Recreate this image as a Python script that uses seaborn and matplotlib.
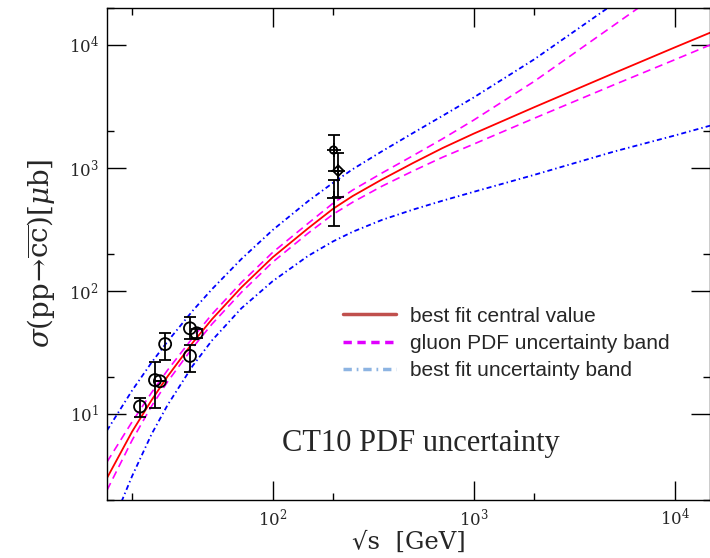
import numpy as np
import pandas as pd
import matplotlib
matplotlib.use("Agg")
import matplotlib.pyplot as plt
from matplotlib.ticker import LogLocator, NullFormatter
from matplotlib.lines import Line2D
import seaborn as sns

# ---------------- data ----------------
sqrt_s = [15, 20, 25, 30, 40, 50, 70, 100, 150, 200, 250, 350, 500, 700, 1000, 2000, 5000, 10000, 15000]
central = [2.99, 7.13, 12.85, 20.0, 37.6, 58.6, 106.2, 186, 320, 462, 586, 800, 1089, 1439, 1884, 3090, 5861, 9462, 12470]
gluon_hi = [4.04, 8.57, 14.8, 22.5, 41.2, 64.3, 116.4, 204, 351, 513, 655, 902, 1250, 1710, 2427, 5012, 14390, 32060, 49660]
gluon_lo = [2.38, 6.07, 11.5, 18.1, 34.3, 53.5, 96.8, 170, 292, 417, 522, 705, 938, 1211, 1549, 2512, 4710, 7516, 9908]
fit_hi = [7.28, 15.4, 26.0, 38.5, 68.4, 102.8, 180.7, 310, 532, 752, 968, 1355, 1910, 2630, 3707, 7568, 21530, 49430, 80350]
fit_lo = [1.0, 3.1, 6.8, 11.7, 24.4, 39.4, 71.8, 119, 191, 251, 300, 375, 455, 537, 634, 871, 1349, 1820, 2188]

exp_sqrt_s = [21.9, 26.0, 27.5, 29.2, 38.8, 41.9, 38.8, 201, 212, 201]
exp_sigma = [11.4, 18.7, 18.3, 36.7, 49.3, 44.9, 29.4, 1387, 942, 569]
exp_low = [9.4, 11.0, 18.3, 27.2, 40.0, 41.0, 21.9, 942, 579, 336]
exp_high = [13.3, 26.4, 18.3, 45.4, 60.5, 49.0, 36.1, 1837, 1313, 792]
exp_kind = ["circle"] * 7 + ["cross", "diamond", "star"]

legend_labels = ["best fit central value", "gluon PDF uncertainty band", "best fit uncertainty band"]
title_text = "CT10 PDF uncertainty"

# ---------------- styling ----------------
sns.set_style("ticks")
plt.rcParams["font.family"] = ["DejaVu Serif"]
plt.rcParams["mathtext.fontset"] = "dejavuserif"

W, H = 710, 558
fig = plt.figure(figsize=(W / 100, H / 100), dpi=100)
ax = fig.add_axes([107 / W, 1 - 499.5 / H, 603 / W, 492 / H])

curves = pd.DataFrame({"sqrt_s": sqrt_s, "central": central, "gluon_hi": gluon_hi,
                       "gluon_lo": gluon_lo, "fit_hi": fit_hi, "fit_lo": fit_lo})

blue_dash = (2.8, 1.7, 0.8, 1.7)
for col in ["fit_hi", "fit_lo"]:
    sns.lineplot(data=curves, x="sqrt_s", y=col, ax=ax, color="#0000ff", lw=1.3,
                 estimator=None, sort=False)
    ax.lines[-1].set_dashes(blue_dash)
for col in ["gluon_hi", "gluon_lo"]:
    sns.lineplot(data=curves, x="sqrt_s", y=col, ax=ax, color="#ff00ff", lw=1.2,
                 estimator=None, sort=False)
    ax.lines[-1].set_dashes((4.8, 3.0))
sns.lineplot(data=curves, x="sqrt_s", y="central", ax=ax, color="#ff0000", lw=1.3,
             estimator=None, sort=False)

# experimental points
exp = pd.DataFrame({"x": exp_sqrt_s, "y": exp_sigma, "lo": exp_low, "hi": exp_high, "kind": exp_kind})
yerr = np.array([exp["y"] - exp["lo"], exp["hi"] - exp["y"]])
ax.errorbar(exp["x"], exp["y"], yerr=yerr, fmt="none", ecolor="black", elinewidth=1.3,
            capsize=4.5, capthick=1.3, zorder=5)
circ = exp[exp["kind"] == "circle"]
sns.scatterplot(data=circ, x="x", y="y", ax=ax, marker="o", s=75, facecolor="none",
                edgecolor="black", linewidth=1.3, zorder=6)
for kind, mk, ms in [("cross", "o", 28), ("diamond", "D", 30), ("star", "x", 45)]:
    sub = exp[exp["kind"] == kind]
    sns.scatterplot(data=sub, x="x", y="y", ax=ax, marker=mk, s=ms, facecolor="none",
                    edgecolor="black", linewidth=1.3, zorder=6)
    sns.scatterplot(data=sub, x="x", y="y", ax=ax, marker="+", s=90, color="black",
                    linewidth=1.3, zorder=6)

# axes
ax.set_xscale("log")
ax.set_yscale("log")
ax.set_xlim(15, 15000)
ax.set_ylim(2, 20000)
for a in (ax.xaxis, ax.yaxis):
    a.set_major_locator(LogLocator(base=10, numticks=10))
    a.set_minor_locator(LogLocator(base=10, subs=[2.0], numticks=10))
    a.set_minor_formatter(NullFormatter())
ax.tick_params(which="both", direction="in", top=True, right=True, width=1.0, color="black")
ax.tick_params(which="major", length=13.5, labelsize=12, pad=6)
ax.tick_params(which="minor", length=5)
for sp in ax.spines.values():
    sp.set_visible(True)
    sp.set_linewidth(1.0)
    sp.set_color("black")

ax.set_xlabel("√s  [GeV]", fontsize=17.5, labelpad=1)
ax.set_ylabel(r"$\sigma(\mathrm{pp}\!\rightarrow\!\overline{\mathrm{cc}})[\mu\mathrm{b}]$",
              fontsize=20, labelpad=8)

ax.text(0.52, 0.099, title_text, transform=ax.transAxes, ha="center", va="baseline",
        fontsize=22, family="Liberation Serif")

handles = [Line2D([], [], color="#c0504d", lw=2.5),
           Line2D([], [], color="#e000ff", lw=2.5, dashes=(2.4, 1.6)),
           Line2D([], [], color="#8db4e2", lw=2.5, dashes=(2.4, 1.4, 0.5, 1.4))]
ax.legend(handles, legend_labels, loc="upper left", bbox_to_anchor=(0.391, 0.392),
          frameon=False, borderpad=0, borderaxespad=0, handlelength=2.55,
          handletextpad=0.7, labelspacing=0.4,
          prop={"family": "Liberation Sans", "size": 15})

fig.savefig("out.png", dpi=100)
